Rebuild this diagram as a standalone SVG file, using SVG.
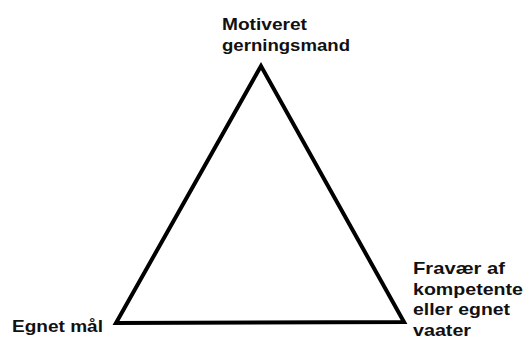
<svg xmlns="http://www.w3.org/2000/svg" width="524" height="342" viewBox="0 0 524 342">
<style>
.t{font-family:"Liberation Sans",Arial,sans-serif;font-weight:bold;font-size:17px;fill:#111}
</style>
<rect width="524" height="342" fill="#fff"/>
<g id="connectors">
<polygon points="261,66 116,323 404,322" fill="none" stroke="#000" stroke-width="4" stroke-linejoin="miter"/>
</g>
<g id="top">
<text class="t" x="222" y="30" textLength="85" lengthAdjust="spacingAndGlyphs">Motiveret</text>
<text class="t" x="222" y="51" textLength="128" lengthAdjust="spacingAndGlyphs">gerningsmand</text>
</g>
<g id="left">
<text class="t" x="12" y="332" textLength="91" lengthAdjust="spacingAndGlyphs">Egnet mål</text>
</g>
<g id="right">
<text class="t" x="413" y="274" textLength="92" lengthAdjust="spacingAndGlyphs">Fravær af</text>
<text class="t" x="413" y="295" textLength="110" lengthAdjust="spacingAndGlyphs">kompetente</text>
<text class="t" x="413" y="315" textLength="97" lengthAdjust="spacingAndGlyphs">eller egnet</text>
<text class="t" x="413" y="336" textLength="58" lengthAdjust="spacingAndGlyphs">vaater</text>
</g>
</svg>
